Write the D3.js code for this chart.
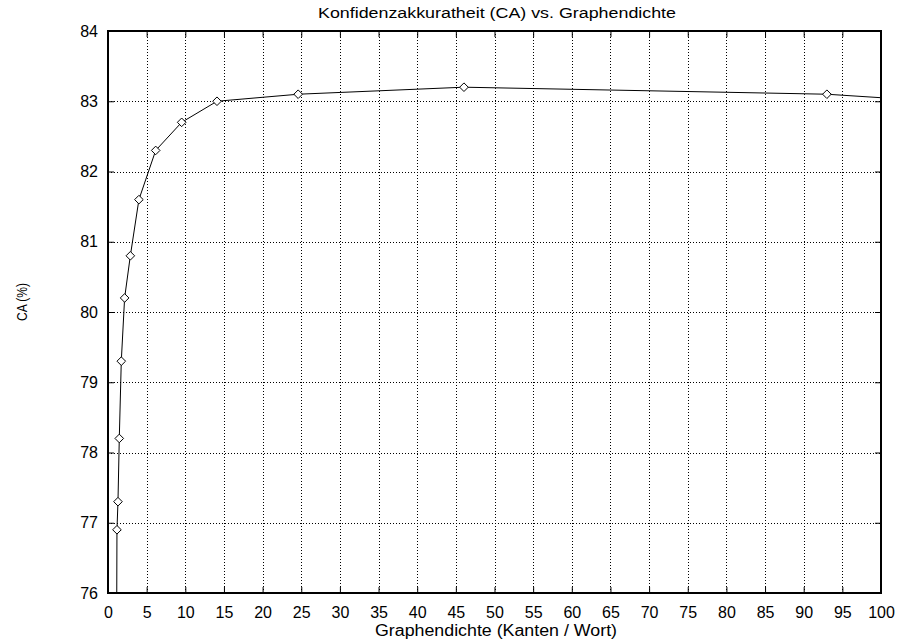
<!DOCTYPE html>
<html>
<head>
<meta charset="utf-8">
<script src="https://cdn.jsdelivr.net/npm/d3@7"></script>
<style>
  body { margin: 0; background: #fff; }
  text { font-family: "Liberation Sans", Arial, sans-serif; fill: #000; }
</style>
</head>
<body>
<div class="container"></div>
<script>
// Graphendichte (Kanten / Wort) vs. CA (%)
const density = [1.1, 1.16, 1.29, 1.46, 1.72, 2.15, 2.89, 4.0, 6.17, 9.53, 14.1, 24.6, 46.05, 93, 186];
const accuracy = [74.8, 76.9, 77.3, 78.2, 79.3, 80.2, 80.8, 81.6, 82.3, 82.7, 83.0, 83.1, 83.2, 83.1, 82.44];
const xTicks = d3.range(0, 101, 5);
const yTicks = [76, 77, 78, 79, 80, 81, 82, 83, 84];

const renderChart = () => {
  const width = 899;
  const height = 641;
  const margin = { top: 31, right: 18, bottom: 48, left: 108 };
  const chartWidth = width - margin.left - margin.right;
  const chartHeight = height - margin.top - margin.bottom;

  const svg = d3.select('.container').append('svg').attr('width', width).attr('height', height);
  svg.append('defs').append('clipPath').attr('id', 'clip')
    .append('rect').attr('width', chartWidth).attr('height', chartHeight);

  const chart = svg.append('g').attr('transform', `translate(${margin.left},${margin.top})`);

  const xScale = d3.scaleLinear().domain([0, 100]).range([0, chartWidth]);
  const yScale = d3.scaleLinear().domain([76, 84]).range([chartHeight, 0]);

  // grid
  const grid = chart.append('g').attr('class', 'grid')
    .attr('stroke', '#000').attr('stroke-width', 1).attr('stroke-dasharray', '1,2');
  grid.selectAll('.gx').data(xTicks.slice(1, -1)).enter().append('line')
    .attr('x1', d => Math.round(xScale(d)) + 0.5).attr('x2', d => Math.round(xScale(d)) + 0.5)
    .attr('y1', 0).attr('y2', chartHeight);
  grid.selectAll('.gy').data(yTicks.slice(1, -1)).enter().append('line')
    .attr('y1', d => Math.round(yScale(d)) + 0.5).attr('y2', d => Math.round(yScale(d)) + 0.5)
    .attr('x1', 0).attr('x2', chartWidth);

  // axes (ticks inside, mirrored)
  chart.append('g').attr('transform', `translate(0,${chartHeight})`)
    .call(d3.axisBottom(xScale).tickValues(xTicks).tickSizeInner(-6).tickSizeOuter(0).tickPadding(14));
  chart.append('g')
    .call(d3.axisTop(xScale).tickValues(xTicks).tickSizeInner(-6).tickSizeOuter(0).tickFormat(''));
  chart.append('g')
    .call(d3.axisLeft(yScale).tickValues(yTicks).tickSizeInner(-6).tickSizeOuter(0).tickPadding(10));
  chart.append('g').attr('transform', `translate(${chartWidth},0)`)
    .call(d3.axisRight(yScale).tickValues(yTicks).tickSizeInner(-6).tickSizeOuter(0).tickFormat(''));

  chart.selectAll('.domain').remove();
  chart.selectAll('.tick line').attr('stroke', '#000');
  chart.selectAll('.tick text').attr('font-size', 16).attr('fill', '#000')
    .attr('font-family', '"Liberation Sans", Arial, sans-serif');

  chart.append('rect').attr('width', chartWidth).attr('height', chartHeight)
    .attr('fill', 'none').attr('stroke', '#000').attr('stroke-width', 2);

  // series
  const points = density.map((d, i) => ({ x: d, y: accuracy[i] }));
  const series = chart.append('g').attr('clip-path', 'url(#clip)');
  series.append('path').datum(points)
    .attr('fill', 'none').attr('stroke', '#000').attr('stroke-width', 1)
    .attr('d', d3.line().x(d => xScale(d.x)).y(d => yScale(d.y)));
  series.selectAll('path.mark').data(points).enter().append('path')
    .attr('class', 'mark')
    .attr('transform', d => `translate(${xScale(d.x)},${yScale(d.y)})`)
    .attr('d', 'M0,-4.3L4.3,0L0,4.3L-4.3,0Z')
    .attr('fill', '#fff').attr('stroke', '#000').attr('stroke-width', 1);

  // labels
  svg.append('text').text('Konfidenzakkuratheit (CA) vs. Graphendichte')
    .attr('x', 497).attr('y', 18)
    .attr('text-anchor', 'middle').attr('font-size', 15.5)
    .attr('textLength', 358).attr('lengthAdjust', 'spacingAndGlyphs');
  svg.append('text').text('Graphendichte (Kanten / Wort)')
    .attr('x', 496).attr('y', 636)
    .attr('text-anchor', 'middle').attr('font-size', 16)
    .attr('textLength', 242).attr('lengthAdjust', 'spacingAndGlyphs');
  svg.append('text').text('CA (%)')
    .attr('transform', 'translate(27,302) rotate(-90)')
    .attr('text-anchor', 'middle').attr('font-size', 15.5)
    .attr('textLength', 38).attr('lengthAdjust', 'spacingAndGlyphs');
};

renderChart();
</script>
</body>
</html>
